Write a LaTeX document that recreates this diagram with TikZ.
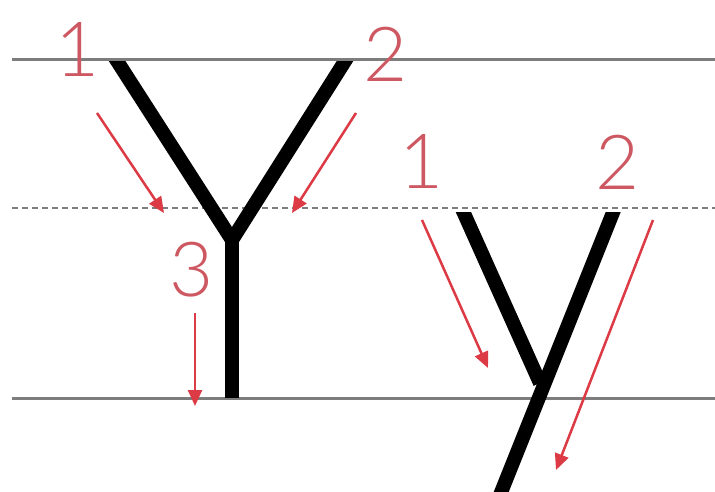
\documentclass[tikz,border=0pt]{standalone}
\usepackage{fontspec}
\newfontfamily\numfont{Lato Light}
\usetikzlibrary{arrows.meta}
\definecolor{guidegray}{RGB}{125,125,125}
\definecolor{arrowred}{RGB}{220,58,68}
\definecolor{numred}{RGB}{205,88,98}
\begin{document}
\begin{tikzpicture}[x=1pt,y=-1pt,font=\numfont\fontsize{76}{76}\selectfont]
  \useasboundingbox[fill=white] (0,0) rectangle (715,492);
  % guide lines
  \draw[guidegray,line width=3pt] (12,60) -- (715,60);
  \draw[guidegray,line width=2.5pt,dash pattern=on 6pt off 4pt] (12,208) -- (715,208);
  \draw[guidegray,line width=3pt] (12,398) -- (715,398);
  % capital Y
  \coordinate (capL) at (110,50);
  \coordinate (capR) at (352,50);
  \coordinate (capJ) at (232,240);
  \coordinate (capB) at (232,398);
  \begin{scope}
    \clip (0,62) rectangle (715,492);
    \draw[line width=14pt,line join=miter] (capL) -- (capJ) -- (capR);
    \draw[line width=14pt] (capJ) -- (capB);
  \end{scope}
  % small y
  \coordinate (smlL) at (458,200);
  \coordinate (smlJ) at (540,383);
  \coordinate (smlR) at (618,200);
  \coordinate (smlB) at (490,520);
  \begin{scope}
    \clip (0,212) rectangle (715,492);
    \draw[line width=14pt] (smlL) -- (smlJ);
    \draw[line width=14pt] (smlR) -- (smlB);
  \end{scope}
  % stroke order numbers
  \foreach \name/\pos/\txt in {capone/{(78,50)}/1,captwo/{(386,54)}/2,capthree/{(192,270)}/3,
                                 smlone/{(422,162)}/1,smltwo/{(618,162)}/2} {
    \node[numred,inner sep=0pt] (\name) at \pos {\txt};
  }
  % stroke arrows
  \coordinate (a1s) at (97,113);   \coordinate (a1e) at (164,213);
  \coordinate (a2s) at (356,113);  \coordinate (a2e) at (292,213);
  \coordinate (a3s) at (195,313);  \coordinate (a3e) at (195,406);
  \coordinate (b1s) at (422,220);  \coordinate (b1e) at (488,368);
  \coordinate (b2s) at (653,220);  \coordinate (b2e) at (556,470);
  \foreach \s/\e in {a1s/a1e,a2s/a2e,a3s/a3e,b1s/b1e,b2s/b2e}
    \draw[arrowred,line width=2.5pt,-{Triangle[length=16pt,width=14pt]}] (\s) -- (\e);
\end{tikzpicture}
\end{document}
